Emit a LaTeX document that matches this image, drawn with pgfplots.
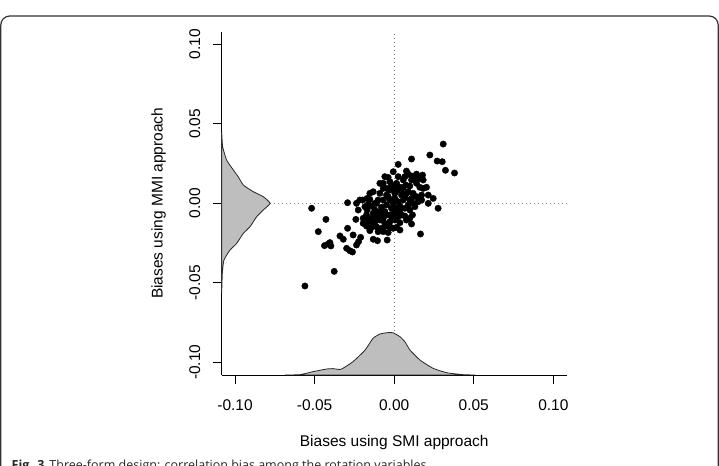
\documentclass[border=0pt]{standalone}
\usepackage{pgfplots}
\pgfplotsset{compat=1.18}
\usepackage{fontspec}
\setmainfont{Liberation Sans}
\newfontfamily\capfont{Open Sans}
\definecolor{rgray}{RGB}{190,190,190}
\pgfplotstableread{
x y
-0.0561 -0.0520
-0.0377 -0.0428
-0.0519 -0.0031
-0.0429 -0.0101
-0.0477 -0.0178
-0.0341 -0.0205
-0.0293 -0.0157
-0.0438 -0.0266
-0.0415 -0.0256
-0.0398 -0.0268
-0.0404 -0.0247
-0.0320 -0.0226
-0.0299 -0.0283
-0.0279 -0.0298
-0.0262 -0.0306
-0.0258 -0.0199
-0.0237 -0.0262
-0.0224 -0.0241
-0.0211 -0.0214
-0.0293 0.0004
-0.0241 -0.0101
-0.0237 0.0000
-0.0199 0.0021
-0.0170 0.0031
-0.0153 -0.0172
-0.0132 -0.0226
-0.0105 -0.0235
-0.0044 -0.0231
-0.0038 -0.0184
0.0015 -0.0151
0.0025 0.0245
0.0109 0.0279
0.0224 0.0304
0.0308 0.0373
0.0270 0.0266
0.0302 0.0262
0.0322 0.0208
0.0379 0.0191
0.0077 0.0203
0.0088 0.0184
0.0140 0.0184
0.0178 0.0178
-0.0006 0.0199
-0.0059 0.0168
-0.0038 0.0163
-0.0069 0.0126
-0.0027 0.0136
-0.0132 0.0073
-0.0090 0.0063
0.0203 0.0101
0.0161 0.0101
0.0214 0.0052
0.0245 0.0031
0.0276 -0.0031
0.0214 0.0000
0.0115 -0.0073
0.0109 -0.0130
0.0165 -0.0193
0.0130 -0.0021
0.0119 0.0000
0.0140 0.0042
0.0172 0.0052
0.0109 0.0147
0.0130 0.0147
0.0015 0.0126
0.0036 0.0101
0.0098 0.0109
0.0140 0.0126
0.0073 0.0115
-0.0048 0.0052
0.0004 0.0063
0.0046 0.0052
0.0067 0.0042
0.0109 0.0031
-0.0216 0.0021
-0.0153 0.0025
-0.0184 -0.0021
-0.0142 -0.0017
-0.0111 0.0000
-0.0080 -0.0025
-0.0048 -0.0010
-0.0006 0.0000
0.0025 0.0010
0.0057 0.0021
0.0088 -0.0010
-0.0170 -0.0042
-0.0121 -0.0042
-0.0090 -0.0052
-0.0017 -0.0031
0.0015 -0.0031
-0.0174 -0.0073
-0.0142 -0.0094
-0.0111 -0.0073
-0.0080 -0.0084
-0.0048 -0.0073
-0.0006 -0.0063
0.0025 -0.0084
0.0046 -0.0073
-0.0153 -0.0115
-0.0121 -0.0115
-0.0090 -0.0105
-0.0059 -0.0126
-0.0027 -0.0115
0.0004 -0.0105
0.0036 -0.0122
-0.0174 -0.0143
-0.0142 -0.0151
-0.0111 -0.0147
-0.0080 -0.0157
-0.0048 -0.0143
-0.0006 -0.0157
-0.0101 -0.0178
-0.0038 0.0042
-0.0069 0.0021
-0.0027 0.0084
0.0004 0.0094
0.0025 0.0168
0.0057 0.0147
0.0046 0.0073
0.0088 0.0073
-0.0195 -0.0126
-0.0195 -0.0094
-0.0017 -0.0084
-0.0059 -0.0052
-0.0132 -0.0063
0.0036 -0.0042
-0.0153 0.0063
0.0109 0.0172
0.0161 0.0157
0.0182 0.0147
0.0067 0.0168
0.0119 0.0063
0.0098 -0.0042
0.0077 -0.0105
-0.0226 -0.0042
-0.0090 0.0126
-0.0048 0.0094
-0.0017 0.0115
0.0025 0.0084
0.0057 0.0101
0.0077 0.0063
0.0098 0.0021
0.0151 0.0010
0.0172 0.0021
0.0182 0.0094
-0.0069 0.0094
-0.0101 0.0021
-0.0121 0.0000
-0.0163 -0.0004
-0.0027 0.0021
0.0004 0.0031
0.0036 -0.0017
0.0067 -0.0031
0.0015 -0.0063
-0.0027 -0.0073
-0.0069 -0.0094
-0.0101 -0.0084
-0.0132 -0.0130
-0.0163 -0.0105
-0.0069 -0.0178
-0.0027 -0.0147
0.0036 -0.0168
0.0067 -0.0080
0.0098 -0.0094
}\scatterdata
\begin{document}
\begin{tikzpicture}[x=1bp,y=1bp]
\clip[use as bounding box] (0,0) rectangle (719,466);
\fill[white] (0,0) rectangle (719,466);
\draw[line width=1.2bp, black!80, rounded corners=9bp] (0.8,-30) -- (0.8,450) -- (718.2,450) -- (718.2,-30);
\node[anchor=base west, inner sep=0pt, font=\capfont\fontsize{12.5bp}{15bp}\selectfont, text=black!85] at (11.5,-3.5) {\textbf{Fig. 3}\hspace{0.4em}Three-form design: correlation bias among the rotation variables};
\begin{axis}[
  at={(221.7bp,91bp)}, anchor=south west,
  scale only axis, width=345bp, height=343.3bp,
  xmin=-0.1084, xmax=0.1084, ymin=-0.108, ymax=0.108,
  clip=false,
  axis x line=bottom, axis y line=left,
  axis line style={-, line width=0.9bp, black},
  tick align=outside, major tick length=9bp,
  tick style={line width=0.9bp, black},
  font=\fontsize{15.5bp}{18bp}\selectfont,
  xtick={-0.1,-0.05,0,0.05,0.1},
  xticklabels={-0.10,-0.05,0.00,0.05,0.10},
  ytick={-0.1,-0.05,0,0.05,0.1},
  yticklabels={-0.10,-0.05,0.00,0.05,0.10},
  xticklabel style={anchor=base, inner sep=0pt},
  xticklabel shift=26.5bp,
  yticklabel style={rotate=90, anchor=base, inner sep=0pt},
  yticklabel shift=12.7bp,
  xlabel={Biases using SMI approach},
  ylabel={Biases using MMI approach},
  xlabel style={at={([yshift=-71.7bp]rel axis cs:0.5,0)}, anchor=base, inner sep=0pt},
  ylabel style={at={([xshift=-59bp]rel axis cs:0,0.5)}, rotate=0, anchor=base, inner sep=0pt},
]
\addplot[gray, line width=0.9bp, dash pattern=on 1.2bp off 2.8bp] coordinates {(0,-0.108) (0,0.108)};
\addplot[gray, line width=0.9bp, dash pattern=on 1.2bp off 2.8bp] coordinates {(-0.1084,0) (0.1084,0)};
\addplot[fill=rgray, draw=black!85, line width=0.8bp, smooth, tension=0.3] coordinates {
(-0.0686,-0.1080) (-0.0592,-0.1078) (-0.0510,-0.1059) (-0.0422,-0.1042) (-0.0385,-0.1040)
(-0.0334,-0.1044) (-0.0259,-0.0996) (-0.0183,-0.0923) (-0.0133,-0.0849) (-0.0089,-0.0822)
(-0.0045,-0.0814) (-0.0008,-0.0814) (0.0036,-0.0839) (0.0068,-0.0872) (0.0099,-0.0923)
(0.0162,-0.0986) (0.0244,-0.1038) (0.0332,-0.1066) (0.0433,-0.1078) (0.0508,-0.1080)
} -- cycle;
\addplot[fill=rgray, draw=black!85, line width=0.8bp, smooth, tension=0.3] coordinates {
(-0.1084,0.0450) (-0.1078,0.0356) (-0.1053,0.0272) (-0.1011,0.0210) (-0.0980,0.0167)
(-0.0948,0.0115) (-0.0885,0.0073) (-0.0823,0.0042) (-0.0780,0.0000) (-0.0823,-0.0042)
(-0.0864,-0.0084) (-0.0906,-0.0147) (-0.0948,-0.0189) (-0.0990,-0.0252) (-0.1032,-0.0294)
(-0.1070,-0.0357) (-0.1080,-0.0440) (-0.1084,-0.0566)
} -- cycle;
\addplot[only marks, mark=*, mark size=3.2bp, black] table[x=x, y=y] {\scatterdata};
\end{axis}
\end{tikzpicture}
\end{document}
